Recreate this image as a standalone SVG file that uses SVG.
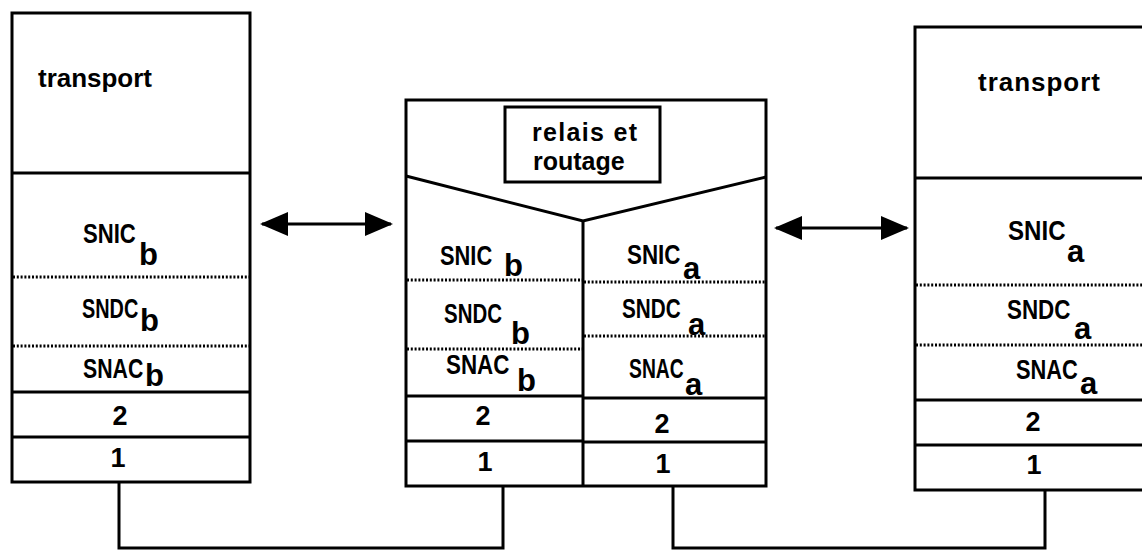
<svg xmlns="http://www.w3.org/2000/svg" width="1142" height="553" viewBox="0 0 1142 553">
<defs>
<style>
.box{fill:none;stroke:#000;stroke-width:3}
.sol{stroke:#000;stroke-width:3;fill:none}
.dot{stroke:#000;stroke-width:3;stroke-dasharray:2 1.8;fill:none}
.con{stroke:#000;stroke-width:3;fill:none}
.t{font-family:"Liberation Sans",Arial,sans-serif;fill:#000}
.big{font-size:26px;font-weight:bold}
.rel{font-size:25px;font-weight:bold}
.lab{font-size:28px;font-weight:bold}
.sub{font-size:31px;font-weight:bold}
.num{font-size:27px;font-weight:bold}
</style>
<marker id="ah" viewBox="0 0 28 24" refX="26" refY="12" markerWidth="28" markerHeight="24" markerUnits="userSpaceOnUse" orient="auto-start-reverse">
<path d="M0,0 L28,12 L0,24 Z" fill="#000"/>
</marker>
</defs>
<rect width="1142" height="553" fill="#fff"/>

<g id="stack-left">
<rect class="box" x="12" y="13" width="238" height="469"/>
<line class="sol" x1="12" y1="173" x2="250" y2="173"/>
<line class="dot" x1="13" y1="277" x2="249" y2="277"/>
<line class="dot" x1="13" y1="346" x2="249" y2="346"/>
<line class="sol" x1="12" y1="392" x2="250" y2="392"/>
<line class="sol" x1="12" y1="437" x2="250" y2="437"/>
<text class="t big" x="38" y="87" textLength="114" lengthAdjust="spacing">transport</text>
<text class="t lab" transform="translate(83,243) scale(0.79,1)">SNIC</text>
<text class="t sub" x="139" y="265">b</text>
<text class="t lab" transform="translate(82,318) scale(0.71,1)">SNDC</text>
<text class="t sub" x="140" y="331">b</text>
<text class="t lab" transform="translate(83,378) scale(0.76,1)">SNAC</text>
<text class="t sub" x="145" y="386">b</text>
<text class="t num" x="120" y="425" text-anchor="middle">2</text>
<text class="t num" x="118" y="467" text-anchor="middle">1</text>
</g>

<g id="relay-middle">
<rect class="box" x="406" y="100" width="360" height="386"/>
<polyline class="sol" points="406,176 583,221 766,177"/>
<line class="sol" x1="583" y1="221" x2="583" y2="486"/>
<rect class="box" x="505" y="107" width="155" height="75"/>
<text class="t rel" x="532" y="141" textLength="105" lengthAdjust="spacing">relais et</text>
<text class="t rel" x="533" y="170">routage</text>
<path class="dot" d="M407,280 H582 M407,349 H582 M584,282 H765 M584,336 H765"/>
<path class="sol" d="M406,396 H583 M406,441 H583 M583,398 H766 M583,442 H766"/>
<text class="t lab" transform="translate(440,265) scale(0.78,1)">SNIC</text>
<text class="t sub" x="504" y="276">b</text>
<text class="t lab" transform="translate(444,323) scale(0.73,1)">SNDC</text>
<text class="t sub" x="511" y="344">b</text>
<text class="t lab" transform="translate(446,374) scale(0.8,1)">SNAC</text>
<text class="t sub" x="517" y="391">b</text>
<text class="t num" x="483" y="425" text-anchor="middle">2</text>
<text class="t num" x="485" y="471" text-anchor="middle">1</text>
<text class="t lab" transform="translate(627,264) scale(0.8,1)">SNIC</text>
<text class="t sub" x="683" y="279">a</text>
<text class="t lab" transform="translate(622,318) scale(0.74,1)">SNDC</text>
<text class="t sub" x="688" y="335">a</text>
<text class="t lab" transform="translate(629,378) scale(0.69,1)">SNAC</text>
<text class="t sub" x="685" y="395">a</text>
<text class="t num" x="662" y="433" text-anchor="middle">2</text>
<text class="t num" x="663" y="473" text-anchor="middle">1</text>
</g>

<g id="stack-right">
<polyline class="box" points="1160,27 915,27 915,490 1160,490"/>
<line class="sol" x1="915" y1="178" x2="1160" y2="178"/>
<line class="dot" x1="916" y1="285" x2="1160" y2="285"/>
<line class="dot" x1="916" y1="345" x2="1160" y2="345"/>
<line class="sol" x1="915" y1="400" x2="1160" y2="400"/>
<line class="sol" x1="915" y1="445" x2="1160" y2="445"/>
<text class="t big" x="978" y="91" textLength="122" lengthAdjust="spacing">transport</text>
<text class="t lab" transform="translate(1008,240) scale(0.86,1)">SNIC</text>
<text class="t sub" x="1067" y="262">a</text>
<text class="t lab" transform="translate(1007,319) scale(0.8,1)">SNDC</text>
<text class="t sub" x="1074" y="339">a</text>
<text class="t lab" transform="translate(1016,379) scale(0.78,1)">SNAC</text>
<text class="t sub" x="1080" y="394">a</text>
<text class="t num" x="1033" y="431" text-anchor="middle">2</text>
<text class="t num" x="1034" y="474" text-anchor="middle">1</text>
</g>

<g id="connectors">
<line class="con" x1="262" y1="224" x2="391" y2="224" marker-start="url(#ah)" marker-end="url(#ah)"/>
<line class="con" x1="776" y1="228" x2="907" y2="228" marker-start="url(#ah)" marker-end="url(#ah)"/>
<polyline class="con" points="119,482 119,548 503,548 503,486"/>
<polyline class="con" points="673,486 673,548 1045,548 1045,490"/>
</g>
</svg>
